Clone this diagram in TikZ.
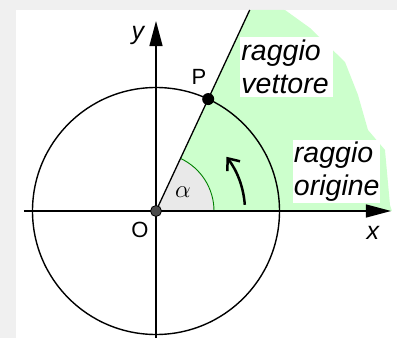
\documentclass[tikz,border=0pt]{standalone}
\usepackage{fontspec}
\setmainfont{Liberation Sans}
\usetikzlibrary{arrows.meta,calc}
\definecolor{bggray}{RGB}{240,240,240}
\definecolor{paintgreen}{RGB}{204,255,204}
\definecolor{sectorgray}{RGB}{233,233,233}
\definecolor{arcgreen}{RGB}{0,128,0}
\tikzset{
  axis/.style={line width=1.3pt, -{Triangle[length=25pt,width=13pt]}},
  labelbox/.style={fill=white, align=left, inner sep=1pt, font=\fontsize{28.5}{33}\selectfont\itshape, anchor=center},
  axlabel/.style={font=\fontsize{25}{28}\selectfont\itshape},
  ptlabel/.style={font=\fontsize{22}{24}\selectfont},
}
\begin{document}
\begin{tikzpicture}[x=1pt,y=1pt]
  \useasboundingbox (-156,-127) rectangle (241,211);
  \fill[bggray] (-156,-127) rectangle (241,211);
  \fill[white] (-140,-127) rectangle (241,201);
  \coordinate (O) at (0,0);
  \coordinate (Ptop) at (65:221.8);
  % green painted region
  \fill[paintgreen] (O) -- (Ptop) -- (129,201) -- (154,183) -- (189,149) -- (202,116) -- (212,81) -- (229,61) -- (234,6) -- (236,0) -- cycle;
  % gray angle sector
  \fill[sectorgray] (O) -- (58,0) arc (0:65:58) -- cycle;
  \draw[arcgreen, line width=0.9pt] (58,0) arc (0:65:58);
  % circle
  \draw[line width=1.4pt] (O) circle (123.5);
  % axes
  \coordinate (xs) at (-132,0);
  \coordinate (xe) at (235,0);
  \coordinate (ys) at (0,-127);
  \coordinate (ye) at (0,190);
  \draw[axis] (xs) -- (xe);
  \draw[axis] (ys) -- (ye);
  % ray
  \coordinate (P) at (65:123.5);
  \draw[line width=1.3pt] (O) -- (Ptop);
  % rotation arrow
  \draw[line width=2.5pt, -{Straight Barb[length=10pt,width=16pt]}] (4:89) arc (4:38:88);
  % points
  \fill[black] (P) circle (6);
  \filldraw[fill=black!70, draw=black, line width=0.8pt] (O) circle (5.5);
  % labels
  \node[ptlabel] (Plab) at (43,134) {P};
  \node[ptlabel] (Olab) at (-16,-19) {O};
  \node[axlabel] (ylab) at (-18,176) {y};
  \node[axlabel] (xlab) at (217,-22) {x};
  \node (alpha) at (27,19) {\fontsize{26}{28}\selectfont$\alpha$};
  \node[labelbox, minimum width=93pt, minimum height=60pt, text width=90pt] (rv) at (130.5,144) {raggio\\vettore};
  \node[labelbox, minimum width=87pt, minimum height=63pt, text width=85pt] (ro) at (180.5,39.5) {raggio\\origine};
\end{tikzpicture}
\end{document}
